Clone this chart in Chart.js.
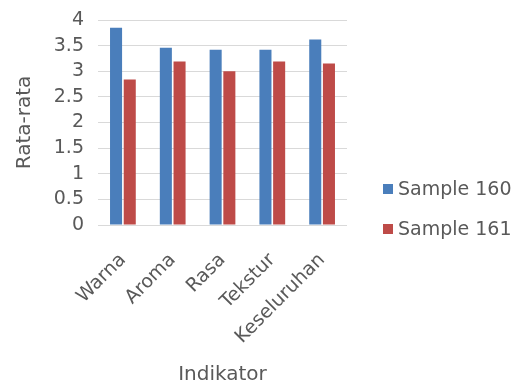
<!DOCTYPE html>
<html>
<head>
<meta charset="utf-8">
<script src="https://cdn.jsdelivr.net/npm/chart.js@4"></script>
<style>
  html, body { margin: 0; padding: 0; background: #fff; }
  #wrap { width: 531px; height: 387px; }
</style>
</head>
<body>
<div id="wrap"><canvas id="myChart"></canvas></div>
<script>
'use strict';

// categories and values
let labelArray = ['Warna', 'Aroma', 'Rasa', 'Tekstur', 'Keseluruhan'];
let sample160 = [3.85, 3.46, 3.42, 3.42, 3.62];
let sample161 = [2.84, 3.19, 3.0, 3.19, 3.15];
let yTicks = [0, 0.5, 1, 1.5, 2, 2.5, 3, 3.5, 4];

Chart.defaults.font.family = 'DejaVu Sans, sans-serif';
Chart.defaults.color = '#595959';

// legend drawn at the right of the plot (built-in one gets squeezed)
const sideLegend = {
    id: 'sideLegend',
    afterDraw(chart) {
        let ctx = chart.ctx;
        let area = chart.chartArea;
        let x = area.right + 36;
        let yMid = area.bottom - 16;
        let gap = 40;
        ctx.save();
        ctx.font = '19px DejaVu Sans, sans-serif';
        ctx.textBaseline = 'middle';
        chart.data.datasets.forEach(function (ds, i) {
            let y = yMid - gap / 2 + i * gap;
            ctx.fillStyle = ds.backgroundColor;
            ctx.fillRect(x, y - 5, 10, 10);
            ctx.fillStyle = '#595959';
            ctx.fillText(ds.label, x + 15, y + 1);
        });
        ctx.restore();
    }
};

const data = {
    labels: labelArray,
    datasets: [{
        label: 'Sample 160',
        data: sample160,
        backgroundColor: '#4a7ebb',
        categoryPercentage: 0.55,
        barPercentage: 0.88
    },
    {
        label: 'Sample 161',
        data: sample161,
        backgroundColor: '#be4b48',
        categoryPercentage: 0.55,
        barPercentage: 0.88
    }]
};

const config = {
    type: 'bar',
    data: data,
    plugins: [sideLegend],
    options: {
        responsive: true,
        maintainAspectRatio: false,
        animation: false,
        layout: { padding: { left: 13, right: 184, top: 0, bottom: 0 } },
        plugins: {
            tooltip: { enabled: false },
            legend: { display: false }
        },
        scales: {
            x: {
                grid: { display: false },
                border: { display: false },
                afterFit: function (scale) {
                    // keep room for rotated labels + title as in the picture
                    scale.height = 162;
                    scale.paddingLeft = 0;
                    scale.paddingTop = 0;
                    scale.paddingRight = 0;
                },
                ticks: {
                    minRotation: 45,
                    maxRotation: 45,
                    autoSkip: false,
                    padding: 16,
                    font: { size: 19 },
                    color: '#595959'
                },
                title: {
                    display: true,
                    text: 'Indikator',
                    padding: { top: 0, bottom: 0 },
                    font: { size: 20 },
                    color: '#595959'
                }
            },
            y: {
                min: 0,
                max: 4,
                afterBuildTicks: function (axis) {
                    axis.ticks = yTicks.map(function (v) { return { value: v }; });
                },
                afterFit: function (scale) {
                    scale.width = 85;
                    scale.paddingTop = 20;
                },
                grid: { color: '#d9d9d9', drawTicks: false },
                border: { display: false },
                ticks: {
                    autoSkip: false,
                    padding: 14,
                    font: { size: 19 },
                    color: '#595959',
                    callback: function (v) { return String(v); }
                },
                title: {
                    display: true,
                    text: 'Rata-rata',
                    padding: { top: 0, bottom: 14 },
                    font: { size: 20 },
                    color: '#595959'
                }
            }
        }
    }
};

var myChart = new Chart(document.getElementById('myChart'), config);
</script>
</body>
</html>
